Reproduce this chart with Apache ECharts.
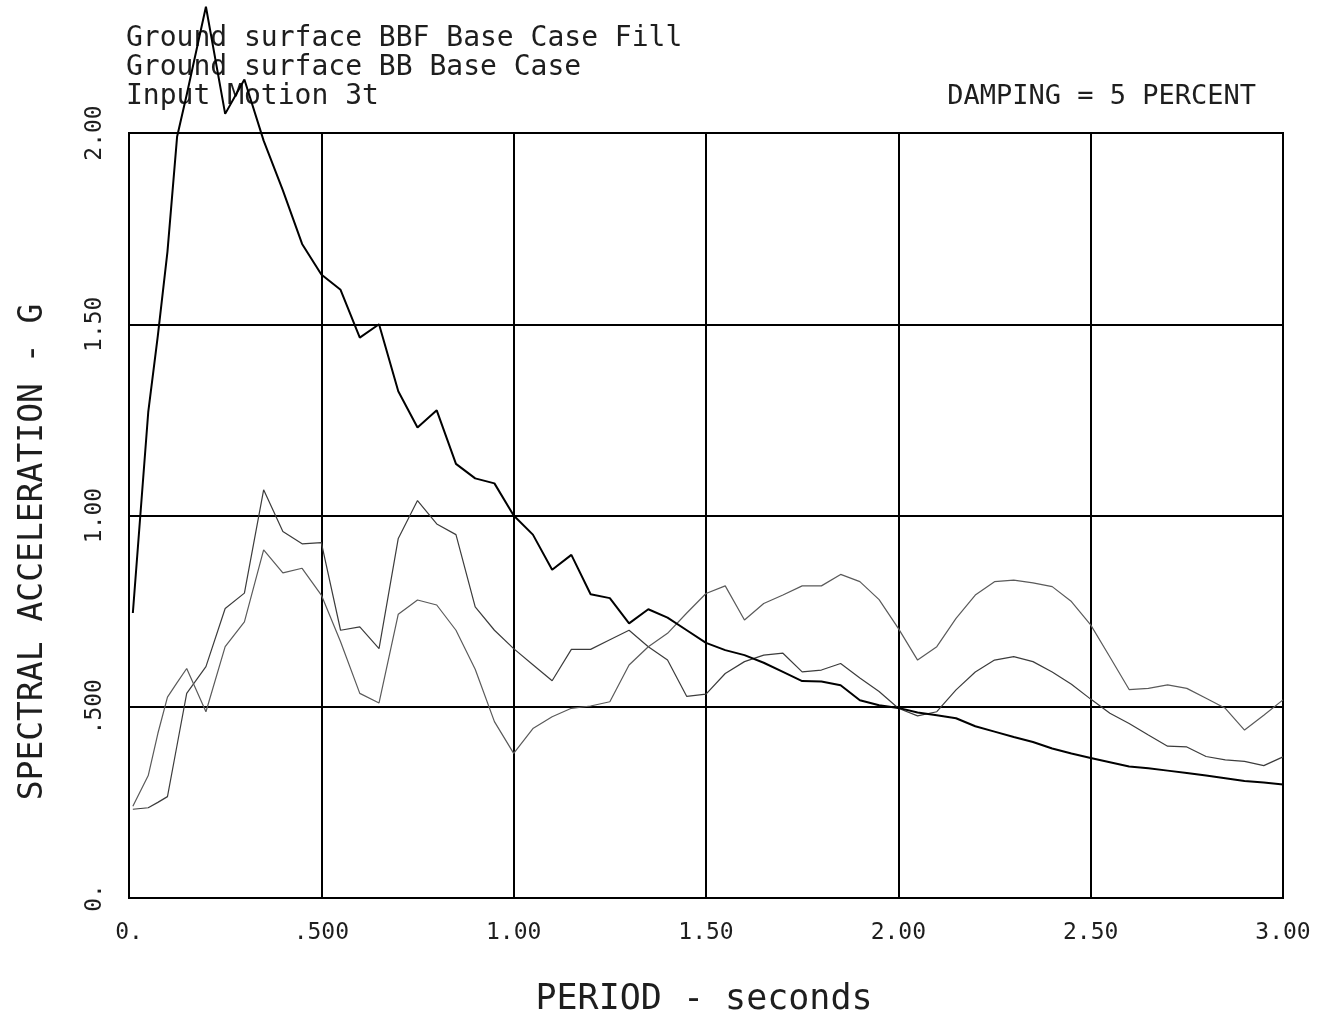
<!DOCTYPE html>
<html>
<head>
<meta charset="utf-8">
<title>Response Spectra - Input Motion 3t</title>
<script src="https://cdn.jsdelivr.net/npm/echarts@6/dist/echarts.min.js"></script>
<style>
  html, body { margin: 0; padding: 0; background: #ffffff; }
  #chart { width: 1319px; height: 1018px; }
</style>
</head>
<body>
<div id="chart"></div>
<script>
// Spectral periods (seconds)
const periods = [
  0.01, 0.05, 0.075, 0.1, 0.125, 0.15, 0.2,
  0.25, 0.3, 0.35, 0.4, 0.45, 0.5, 0.55, 0.6, 0.65, 0.7, 0.75, 0.8, 0.85, 0.9, 0.95, 1.0,
  1.05, 1.1, 1.15, 1.2, 1.25, 1.3, 1.35, 1.4, 1.45, 1.5, 1.55, 1.6, 1.65, 1.7, 1.75, 1.8,
  1.85, 1.9, 1.95, 2.0, 2.05, 2.1, 2.15, 2.2, 2.25, 2.3, 2.35, 2.4, 2.45, 2.5, 2.55, 2.6,
  2.65, 2.7, 2.75, 2.8, 2.85, 2.9, 2.95, 3.0
];

// Spectral acceleration (g), 5 percent damping
const inputMotion3t = [
  0.745, 1.27, 1.47, 1.69, 1.99, 2.10, 2.33,
  2.05, 2.14, 1.98, 1.85, 1.71, 1.63, 1.59, 1.465, 1.50, 1.325, 1.23, 1.275, 1.135, 1.097, 1.084, 1.0,
  0.95, 0.858, 0.897, 0.794, 0.784, 0.718, 0.755, 0.733, 0.70, 0.667, 0.648, 0.635, 0.615, 0.591, 0.567, 0.566,
  0.556, 0.517, 0.504, 0.497, 0.485, 0.478, 0.470, 0.449, 0.435, 0.421, 0.408, 0.391, 0.378, 0.366, 0.355, 0.344,
  0.339, 0.333, 0.327, 0.320, 0.313, 0.306, 0.302, 0.297
];

const surfaceBBF = [
  0.232, 0.236, 0.25, 0.265, 0.40, 0.535, 0.605,
  0.757, 0.797, 1.067, 0.958, 0.926, 0.929, 0.70, 0.709, 0.652, 0.94, 1.039, 0.978, 0.95, 0.761, 0.70, 0.652,
  0.61, 0.568, 0.65, 0.65, 0.675, 0.70, 0.657, 0.622, 0.527, 0.533, 0.587, 0.618, 0.635, 0.64, 0.591, 0.596,
  0.613, 0.575, 0.54, 0.496, 0.476, 0.487, 0.544, 0.591, 0.622, 0.631, 0.618, 0.591, 0.559, 0.520, 0.483, 0.456,
  0.426, 0.397, 0.395, 0.370, 0.361, 0.357, 0.346, 0.369
];

const surfaceBB = [
  0.24, 0.32, 0.43, 0.525, 0.563, 0.60, 0.487,
  0.657, 0.722, 0.91, 0.85, 0.862, 0.792, 0.67, 0.535, 0.51, 0.742, 0.779, 0.766, 0.70, 0.598, 0.461, 0.378,
  0.443, 0.474, 0.496, 0.502, 0.513, 0.609, 0.657, 0.692, 0.745, 0.796, 0.816, 0.727, 0.770, 0.792, 0.816, 0.816,
  0.846, 0.827, 0.78, 0.705, 0.622, 0.657, 0.731, 0.792, 0.827, 0.831, 0.824, 0.814, 0.775, 0.714, 0.63, 0.545,
  0.548, 0.557, 0.548, 0.522, 0.496, 0.439, 0.478, 0.518
];

// Axis tick labels in plotter style
const xTickValues = [0, 0.5, 1.0, 1.5, 2.0, 2.5, 3.0];
const xTickLabels = ['0.', '.500', '1.00', '1.50', '2.00', '2.50', '3.00'];
const yTickValues = [0, 0.5, 1.0, 1.5, 2.0];
const yTickLabels = ['0.', '.500', '1.00', '1.50', '2.00'];

const headerLines = [
  'Ground surface BBF Base Case Fill',
  'Ground surface BB Base Case',
  'Input Motion 3t'
];
const dampingNote = 'DAMPING = 5 PERCENT';
const xTitle = 'PERIOD - seconds';
const yTitle = 'SPECTRAL ACCELERATION - G';

const MONO = '"DejaVu Sans Mono", "Liberation Mono", monospace';
const INK = '#1e1e1e';

function pairs(values) {
  return periods.map((p, i) => [p, values[i]]);
}
function tickText(values, labels) {
  return function (v) {
    for (let i = 0; i < values.length; i++) {
      if (Math.abs(values[i] - v) < 1e-9) return labels[i];
    }
    return '';
  };
}

const chart = echarts.init(document.getElementById('chart'), null, { renderer: 'canvas' });

chart.setOption({
  backgroundColor: '#ffffff',
  animation: false,
  grid: {
    left: 129, right: 36, top: 133, bottom: 120,
    show: true, borderColor: '#000', borderWidth: 2, backgroundColor: 'transparent'
  },
  xAxis: {
    type: 'value', min: 0, max: 3.0, interval: 0.5,
    axisLine: { show: false },
    axisTick: { show: false },
    splitLine: { show: true, lineStyle: { color: '#000', width: 2 } },
    axisLabel: {
      margin: 24, color: INK, fontFamily: MONO, fontSize: 23,
      formatter: tickText(xTickValues, xTickLabels)
    }
  },
  yAxis: {
    type: 'value', min: 0, max: 2.0, interval: 0.5,
    axisLine: { show: false },
    axisTick: { show: false },
    splitLine: { show: true, lineStyle: { color: '#000', width: 2 } },
    axisLabel: {
      rotate: 90, margin: 22, color: INK, fontFamily: MONO, fontSize: 23,
      formatter: tickText(yTickValues, yTickLabels)
    }
  },
  graphic: [
    { type: 'text', left: 126, top: 25, style: { text: headerLines[0], font: '28px ' + MONO, fill: INK } },
    { type: 'text', left: 126, top: 54, style: { text: headerLines[1], font: '28px ' + MONO, fill: INK } },
    { type: 'text', left: 126, top: 83, style: { text: headerLines[2], font: '28px ' + MONO, fill: INK } },
    { type: 'text', right: 63, top: 83, style: { text: dampingNote, font: '27px ' + MONO, fill: INK } },
    { type: 'text', x: 704, y: 1000, style: { text: xTitle, font: '35px ' + MONO, fill: INK, textAlign: 'center', textVerticalAlign: 'middle' } },
    { type: 'text', x: 33, y: 552, rotation: Math.PI / 2, style: { text: yTitle, font: '33px ' + MONO, fill: INK, textAlign: 'center', textVerticalAlign: 'middle' } }
  ],
  series: [
    {
      name: headerLines[0], type: 'line', data: pairs(surfaceBBF),
      showSymbol: false, clip: false, z: 3,
      lineStyle: { color: '#3c3c3c', width: 1.2 }
    },
    {
      name: headerLines[1], type: 'line', data: pairs(surfaceBB),
      showSymbol: false, clip: false, z: 3,
      lineStyle: { color: '#5a5a5a', width: 1.2 }
    },
    {
      name: headerLines[2], type: 'line', data: pairs(inputMotion3t),
      showSymbol: false, clip: false, z: 4,
      lineStyle: { color: '#000', width: 2 }
    }
  ]
});
</script>
</body>
</html>
